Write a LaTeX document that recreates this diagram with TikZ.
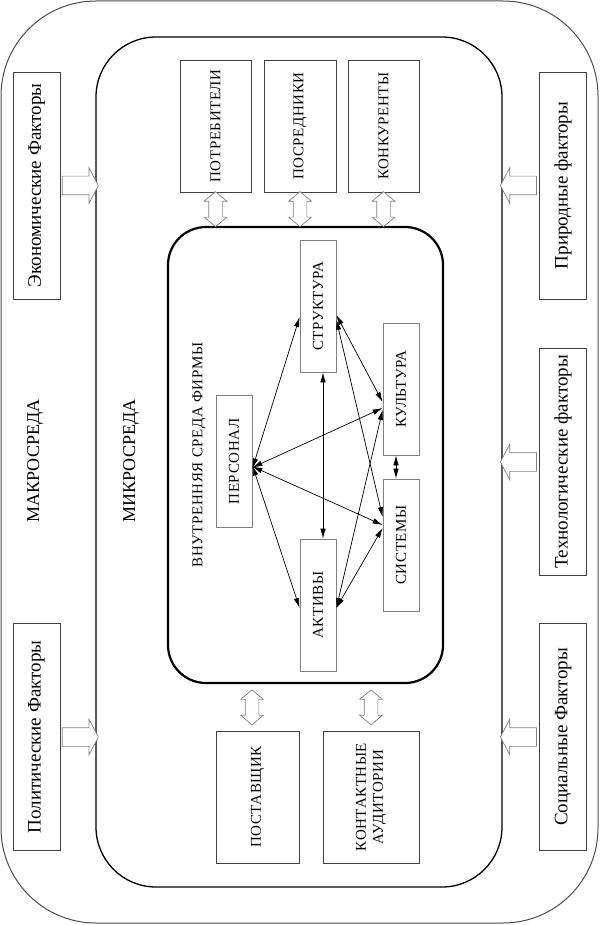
\documentclass[tikz,border=0pt]{standalone}
\usepackage{fontspec}
\setmainfont{Liberation Serif}
\newfontfamily\boxfont[LetterSpace=4]{Liberation Serif}
\usepackage{graphicx}
\usetikzlibrary{arrows.meta,calc,shapes.arrows}
\newcommand{\up}[1]{\rotatebox{90}{#1}}

\begin{document}
\begin{tikzpicture}[x=1pt, y=-1pt,
  factbox/.style={draw=black!75, line width=0.8pt, inner sep=0pt,
              minimum width=47pt, minimum height=227pt,
              font=\fontsize{19}{21}\selectfont},
  envbox/.style={draw=black!75, line width=0.8pt, inner sep=0pt,
              minimum height=132pt, align=center,
              font=\boxfont\fontsize{15}{17}\selectfont},
  unitbox/.style={draw=gray, line width=0.8pt, inner sep=0pt,
              minimum width=36pt, minimum height=132pt,
              font=\boxfont\fontsize{15}{17}\selectfont},
  zonelabel/.style={font=\fontsize{18}{20}\selectfont},
  inflow/.style={draw=gray, fill=white, line width=0.7pt, single arrow,
              inner sep=9pt, minimum height=36pt,
              single arrow head extend=8.5pt, single arrow tip angle=125},
  exchange/.style={draw=gray, fill=white, line width=0.7pt, double arrow,
              inner sep=6.5pt, minimum height=35pt,
              double arrow head extend=4.5pt, double arrow tip angle=100,
              shape border rotate=90},
  tie/.style={{Latex[length=10pt,width=5.5pt]}-{Latex[length=10pt,width=5.5pt]},
              line width=0.7pt}
]
\useasboundingbox (0,0) rectangle (601,925);

%% Environments
\node[draw=black!70, line width=1pt, rounded corners=95pt,
      minimum width=597pt, minimum height=922pt] (macro) at (299.5,462) {};
\node[draw, line width=1.3pt, rounded corners=60pt,
      minimum width=406pt, minimum height=850pt] (micro) at (299,462) {};
\node[draw, line width=2.2pt, rounded corners=38pt,
      minimum width=275pt, minimum height=456pt] (firm) at (305.5,455) {};

\node[zonelabel] (macrolbl) at (35,461) {\up{МАКРОСРЕДА}};
\node[zonelabel] (microlbl) at (131,461) {\up{МИКРОСРЕДА}};
\node[font=\boxfont\fontsize{15}{17}\selectfont] (firmlbl) at (199,455)
  {\up{ВНУТРЕННЯЯ СРЕДА ФИРМЫ}};

%% Macro factors
\node[factbox] (eco) at (36.5,185.5) {\up{Экономические Факторы}};
\node[factbox] (pol) at (36.5,737) {\up{Политические Факторы}};
\node[factbox] (nat) at (563,185.5) {\up{Природные факторы}};
\node[factbox] (tech) at (563,462) {\up{Технологические факторы}};
\node[factbox] (soc) at (563,737) {\up{Социальные Факторы}};

\foreach \f in {eco,pol}
  \node[inflow] at ($(\f.east)!0.5!(\f.east -| micro.west)$) {};
\foreach \f in {nat,tech,soc}
  \node[inflow, shape border rotate=180]
    at ($(\f.west)!0.5!(\f.west -| micro.east)$) {};

%% Micro environment
\node[envbox, minimum width=71pt] (cons) at (215.5,126) {\up{ПОТРЕБИТЕЛИ}};
\node[envbox, minimum width=72pt] (inter) at (300,126) {\up{ПОСРЕДНИКИ}};
\node[envbox, minimum width=71pt] (comp) at (383.5,126) {\up{КОНКУРЕНТЫ}};
\node[envbox, minimum width=83pt] (supp) at (257.5,797) {\up{ПОСТАВЩИК}};
\node[envbox, minimum width=96pt] (aud) at (371,797)
  {\up{\begin{tabular}{@{}c@{}}КОНТАКТНЫЕ\\АУДИТОРИИ\end{tabular}}};

\foreach \b in {cons,inter,comp}
  \node[exchange] at ($(\b.south)!0.5!(\b.south |- firm.north)$) {};
\node[exchange] at ($([xshift=-5.5pt]supp.north)!0.5!([xshift=-5.5pt]supp.north |- firm.south)$) {};
\node[exchange] at ($(aud.north)!0.5!(aud.north |- firm.south)$) {};

%% Inner environment
\node[unitbox] (struct) at (318,306) {\up{СТРУКТУРА}};
\node[unitbox] (cult) at (401,389) {\up{КУЛЬТУРА}};
\node[unitbox] (sys) at (401,545) {\up{СИСТЕМЫ}};
\node[unitbox] (staff) at (234,461.5) {\up{ПЕРСОНАЛ}};
\node[unitbox] (assets) at (318,605) {\up{АКТИВЫ}};

\draw[tie] ([yshift=-7pt]staff.east) -- ([yshift=-11pt]struct.west);
\draw[tie] ([yshift=-4pt]staff.east) -- ([yshift=-3pt]assets.west);
\draw[tie] ([yshift=-6pt]staff.east) -- ([yshift=-19pt]cult.west);
\draw[tie] ([yshift=-5pt]staff.east) -- ([yshift=20pt]sys.west);
\draw[tie] ([xshift=5pt]struct.south) -- ([xshift=5pt]assets.north);
\draw[tie] ([yshift=-9pt]struct.east) -- ([yshift=-13pt]cult.west);
\draw[tie] ([yshift=-14pt]struct.east) -- ([yshift=28pt]sys.west);
\draw[tie] ([yshift=-3pt]assets.east) -- ([yshift=-21pt]cult.west);
\draw[tie] ([yshift=-3pt]assets.east) -- ([yshift=17pt]sys.west);
\draw[tie] ([xshift=-5pt]cult.south) -- ([xshift=-5pt]sys.north);

\end{tikzpicture}
\end{document}
